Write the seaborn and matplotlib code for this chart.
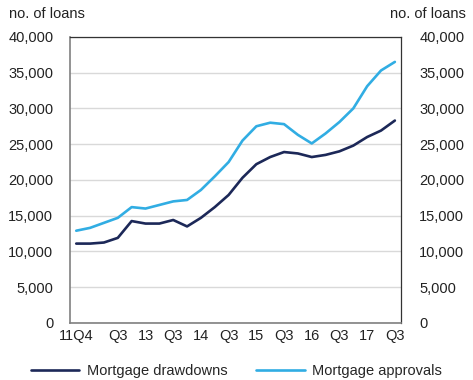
import pandas as pd
import matplotlib
matplotlib.use("Agg")
import matplotlib.pyplot as plt
import seaborn as sns
from matplotlib.ticker import FuncFormatter

# quarterly data, 2011 Q4 to 2017 Q3
quarters = [str(p) for p in pd.period_range("2011Q4", "2017Q3", freq="Q")]
drawdowns = [11100, 11100, 11250, 11900, 14250, 13900, 13900, 14400, 13500, 14700,
             16200, 17900, 20300, 22200, 23200, 23900, 23700, 23200, 23500, 24000,
             24800, 26000, 26900, 28300]
approvals = [12900, 13300, 14000, 14700, 16200, 16000, 16500, 17000, 17200, 18600,
             20500, 22500, 25500, 27500, 28000, 27800, 26300, 25100, 26500, 28100,
             30000, 33100, 35300, 36500]
tick_pos = [0, 3, 5, 7, 9, 11, 13, 15, 17, 19, 21, 23]
tick_labels = ["11Q4", "Q3", "13", "Q3", "14", "Q3", "15", "Q3", "16", "Q3", "17", "Q3"]

df = pd.DataFrame({
    "idx": list(range(len(quarters))) * 2,
    "quarter": quarters * 2,
    "loans": drawdowns + approvals,
    "series": ["Mortgage drawdowns"] * len(quarters) + ["Mortgage approvals"] * len(quarters),
})

sns.set_style("white")
plt.rcParams["font.family"] = ["Liberation Sans", "DejaVu Sans"]
plt.rcParams["font.size"] = 10.5

fig = plt.figure(figsize=(4.73, 3.80), dpi=100)
ax = fig.add_axes([0.148, 0.15, 0.700, 0.753])

palette = {"Mortgage drawdowns": "#1c2858", "Mortgage approvals": "#31ade3"}
sns.lineplot(data=df, x="idx", y="loans", hue="series", palette=palette,
             linewidth=1.9, ax=ax, legend=True)

ax.set_ylim(0, 40000)
ax.set_xlim(-0.45, 23.45)
ax.set_yticks(range(0, 40001, 5000))
ax.set_xticks(tick_pos)
ax.set_xticklabels(tick_labels)
fmt = FuncFormatter(lambda v, p: f"{int(v):,}")
ax.yaxis.set_major_formatter(fmt)
ax.set_xlabel("")
ax.set_ylabel("")
ax.grid(axis="y", color="#d9d9d9", linewidth=1)
ax.set_axisbelow(True)
ax.tick_params(axis="both", length=0, labelsize=10.5, colors="#222222")
ax.tick_params(axis="y", pad=12)
ax.tick_params(axis="x", pad=4)
for side, s in ax.spines.items():
    s.set_color("#808080" if side in ("left", "bottom") else "#333333")
    s.set_linewidth(1.2 if side in ("left", "bottom") else 0.9)

ax2 = ax.twinx()
ax2.set_ylim(0, 40000)
ax2.set_yticks(range(0, 40001, 5000))
ax2.yaxis.set_major_formatter(fmt)
ax2.tick_params(axis="y", length=0, labelsize=10.5, pad=13, colors="#222222")
for s in ax2.spines.values():
    s.set_visible(False)

fig.text(0.02, 0.963, "no. of loans", ha="left", va="center", fontsize=10.5, color="#222222")
fig.text(0.985, 0.963, "no. of loans", ha="right", va="center", fontsize=10.5, color="#222222")

handles, labels = ax.get_legend_handles_labels()
ax.get_legend().remove()
fig.legend(handles, labels, loc="lower center", bbox_to_anchor=(0.5, -0.03), ncol=2,
           frameon=False, handlelength=3.3, columnspacing=2.0, handletextpad=0.5,
           fontsize=10.5)

plt.savefig("out.png", dpi=100)
